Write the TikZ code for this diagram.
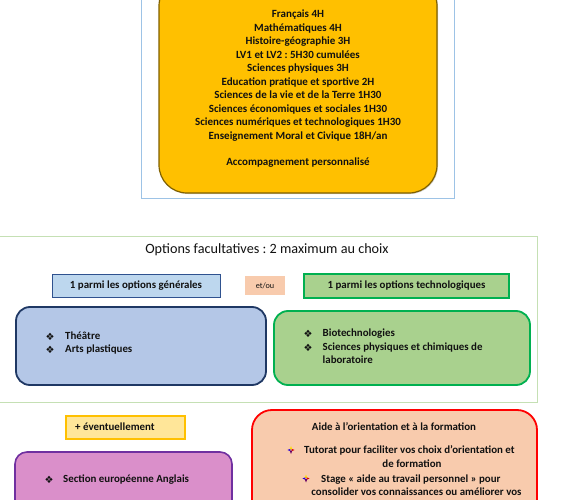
\documentclass[tikz,border=0pt]{standalone}
\usepackage{fontspec}
\setmainfont{Carlito}
\newfontfamily\symfont{DejaVu Sans}
\usetikzlibrary{shadows}
\frenchspacing
\definecolor{coreFill}{HTML}{FFC000}
\definecolor{coreLine}{HTML}{7F6000}
\definecolor{frameBlue}{HTML}{9DC3E6}
\definecolor{frameGreen}{HTML}{C5E0B4}
\definecolor{lblueFill}{HTML}{BDD7EE}
\definecolor{lblueLine}{HTML}{2F528F}
\definecolor{peach}{HTML}{F8CBAD}
\definecolor{gFill}{HTML}{A9D18E}
\definecolor{gLine}{HTML}{00B050}
\definecolor{bFill}{HTML}{B4C7E7}
\definecolor{bLine}{HTML}{1F3864}
\definecolor{yFill}{HTML}{FFE699}
\definecolor{pFill}{HTML}{DA8FCA}
\definecolor{pLine}{HTML}{7030A0}
\definecolor{txt}{HTML}{111111}
\begin{document}
\begin{tikzpicture}[x=1pt,y=-1pt,
  box/.style={anchor=north west,inner sep=0pt,outer sep=0pt},
  btxt/.style={font=\bfseries\fontsize{10.9}{12}\selectfont,text=txt,inner sep=0pt,text height=8pt,text depth=2.5pt},
  sym/.style={font=\symfont\fontsize{10}{11}\selectfont,text=txt,inner sep=0pt},
  cbullet/.pic={
    \fill[yellow!85!orange] (0,-4) -- (-1.3,-0.6) -- (1.3,-0.6) -- cycle;
    \fill[blue!70!violet] (-3.6,0) -- (-0.6,-1.2) -- (-0.6,1.2) -- cycle;
    \fill[red!85!black] (3.6,0) -- (0.6,-1.2) -- (0.6,1.2) -- cycle;
    \fill[violet!80!black] (0,4) -- (-1.3,0.6) -- (1.3,0.6) -- cycle;
  }]
\useasboundingbox (0,0) rectangle (565,500);
\clip (0,0) rectangle (565,500);

% top section
\node[box,draw=frameBlue,line width=0.9pt,minimum width=313pt,minimum height=210pt] (topframe) at (141,-12) {};
\node[box,fill=coreFill,draw=coreLine,line width=1.2pt,rounded corners=28pt,
  drop shadow={shadow xshift=1pt,shadow yshift=-1pt,opacity=0.35},
  minimum width=278pt,minimum height=215pt] (core) at (159,-22) {};
\node[font=\bfseries\fontsize{11}{13.45}\selectfont,text=txt,align=center,inner sep=0pt] (coretext) at (298,89)
{Français 4H\\Mathématiques 4H\\Histoire-géographie 3H\\LV1 et LV2 : 5H30 cumulées\\Sciences physiques 3H\\Education pratique et sportive 2H\\Sciences de la vie et de la Terre 1H30\\Sciences économiques et sociales 1H30\\Sciences numériques et technologiques 1H30\\Enseignement Moral et Civique 18H/an\\[13.45pt]Accompagnement personnalisé};

% middle section
\node[box,draw=frameGreen,line width=0.9pt,minimum width=547pt,minimum height=165.5pt] (optframe) at (-10,236.5) {};
\node[font=\fontsize{14.2}{16}\selectfont,text=txt,inner sep=0pt] (opttitle) at (267,250) {Options facultatives : 2 maximum au choix};

\node[box,fill=lblueFill,draw=lblueLine,line width=1pt,minimum width=168pt,minimum height=23pt] (genhead) at (52,274) {};
\node[btxt] (genheadtxt) at (genhead.center) {1 parmi les options générales};
\node[box,fill=peach,minimum width=40pt,minimum height=19pt] (etou) at (245,276) {};
\node[font=\fontsize{8.2}{9}\selectfont,text=txt,inner sep=0pt] (etoutxt) at (etou.center) {et/ou};
\node[box,fill=gFill,draw=gLine,line width=1.2pt,minimum width=205pt,minimum height=24pt] (techhead) at (304,274) {};
\node[btxt] (techheadtxt) at (techhead.center) {1 parmi les options technologiques};

\node[box,fill=bFill,draw=bLine,line width=1.8pt,rounded corners=14pt,minimum width=250pt,minimum height=78pt] (genbox) at (16,307) {};
\node[sym] (gb1) at (50,337) {❖};
\node[btxt,anchor=west] (gt1) at (65,337) {Théâtre};
\node[sym] (gb2) at (50,349.5) {❖};
\node[btxt,anchor=west] (gt2) at (65,349.5) {Arts plastiques};

\node[box,fill=gFill,draw=gLine,line width=1.8pt,rounded corners=14pt,minimum width=256pt,minimum height=74pt] (techbox) at (274,311) {};
\node[sym] (tb1) at (308,334) {❖};
\node[btxt,anchor=west] (tt1) at (322.5,334) {Biotechnologies};
\node[sym] (tb2) at (308,347.5) {❖};
\node[btxt,anchor=west] (tt2) at (322.5,347.5) {Sciences physiques et chimiques de};
\node[btxt,anchor=west] (tt3) at (322.5,361) {laboratoire};

% bottom section
\node[box,fill=yFill,draw=coreFill,line width=1.3pt,minimum width=119pt,minimum height=23pt] (eventbox) at (66,416) {};
\node[btxt,anchor=west] (eventtxt) at (75,428) {+ éventuellement};

\node[box,fill=pFill,draw=pLine,line width=1.6pt,rounded corners=12pt,minimum width=217pt,minimum height=80pt] (eurobox) at (15,452) {};
\node[sym] (eb1) at (49,480) {❖};
\node[btxt,anchor=west] (et1) at (63,480) {Section européenne Anglais};

\node[box,fill=peach,draw=red,line width=1.8pt,rounded corners=20pt,minimum width=285pt,minimum height=120pt] (aidebox) at (252,410) {};
\node[btxt] (aidetitle) at (394,428) {Aide à l’orientation et à la formation};
\pic at (291,450) {cbullet};
\node[btxt,anchor=west] (al1) at (304,451) {Tutorat pour faciliter vos choix d'orientation et};
\node[btxt] (al2) at (412,465) {de formation};
\pic at (306,478.5) {cbullet};
\node[btxt,anchor=west] (al3) at (321,479.5) {Stage « aide au travail personnel » pour};
\node[btxt] (al4) at (416.5,492.5) {consolider vos connaissances ou améliorer vos};
\end{tikzpicture}
\end{document}
